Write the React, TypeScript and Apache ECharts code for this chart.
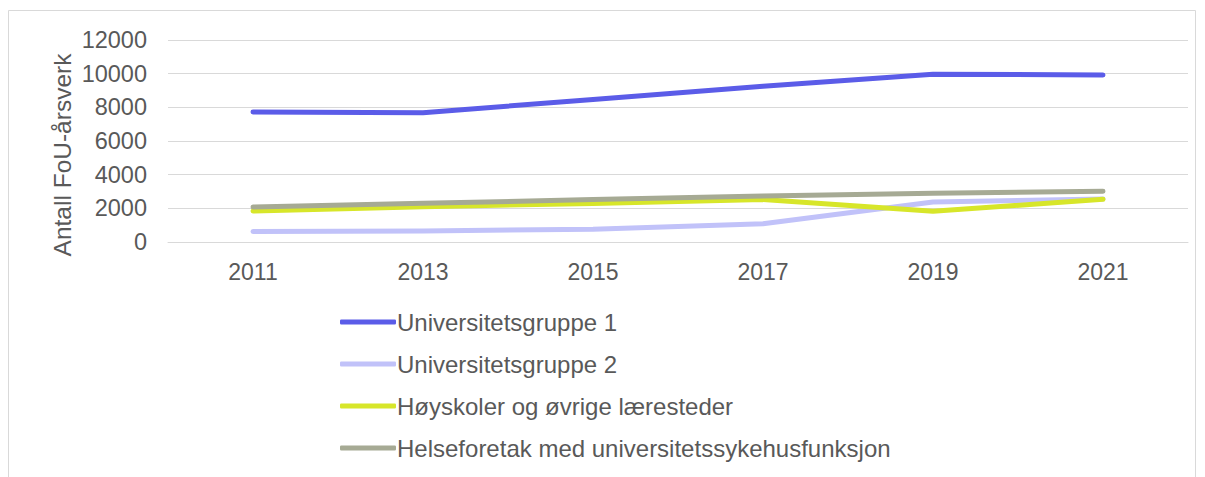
import React, { useEffect, useRef } from "react";
import * as echarts from "echarts";

const years = ["2011", "2013", "2015", "2017", "2019", "2021"];
const seriesNames = [
  "Universitetsgruppe 1",
  "Universitetsgruppe 2",
  "Høyskoler og øvrige læresteder",
  "Helseforetak med universitetssykehusfunksjon",
];
const ug1 = [7720, 7680, 8470, 9250, 9970, 9920];
const ug2 = [620, 660, 760, 1090, 2370, 2560];
const hoyskoler = [1840, 2100, 2290, 2520, 1820, 2540];
const helse = [2080, 2300, 2520, 2740, 2900, 3010];
const colors = ["#5b5ce8", "#c1c2f9", "#d7e62a", "#a6aa94"];
const yAxisTitle = "Antall FoU-årsverk";

export default function App() {
  const ref = useRef<HTMLDivElement>(null);
  useEffect(() => {
    document.body.style.margin = "0";
    const chart = echarts.init(ref.current!, undefined, { renderer: "svg" });
    const values = [ug1, ug2, hoyskoler, helse];
    const font = "Liberation Sans, Arial, sans-serif";
    chart.setOption({
      animation: false,
      textStyle: { fontFamily: font },
      grid: { left: 168, right: 17, top: 40, bottom: 235 },
      xAxis: {
        type: "category",
        data: years,
        boundaryGap: true,
        axisLine: { show: true, lineStyle: { color: "#d9d9d9", width: 1 } },
        axisTick: { show: false },
        axisLabel: { color: "#595959", fontSize: 23, margin: 18, fontFamily: font },
      },
      yAxis: {
        type: "value",
        min: 0,
        max: 12000,
        interval: 2000,
        axisLine: { show: false },
        axisTick: { show: false },
        splitLine: { lineStyle: { color: "#d9d9d9", width: 1 } },
        axisLabel: {
          color: "#595959",
          fontSize: 23.5,
          margin: 21,
          fontFamily: font,
          formatter: (v: number) => String(v),
        },
      },
      legend: {
        orient: "vertical",
        left: 340,
        top: 310,
        padding: 0,
        itemWidth: 56,
        itemHeight: 5,
        itemGap: 18,
        icon: "roundRect",
        textStyle: { color: "#595959", fontSize: 24, lineHeight: 24, fontFamily: font, padding: [0, 0, 0, -4] },
        data: seriesNames,
      },
      graphic: [
        {
          type: "rect",
          shape: { x: 8.5, y: 10.5, width: 1187, height: 480 },
          style: { fill: "none", stroke: "#d9d9d9", lineWidth: 1 },
          silent: true,
        },
        {
          type: "text",
          x: 62,
          y: 155,
          rotation: Math.PI / 2,
          style: {
            text: yAxisTitle,
            fill: "#595959",
            fontSize: 24.5,
            fontFamily: font,
            align: "center",
            verticalAlign: "middle",
          },
        },
      ],
      series: seriesNames.map((name, i) => ({
        name,
        type: "line",
        data: values[i],
        symbol: "none",
        lineStyle: { color: colors[i], width: 5, cap: "round", join: "round" },
        itemStyle: { color: colors[i] },
        z: 2,
      })),
    });
    return () => chart.dispose();
  }, []);
  return <div ref={ref} style={{ width: 1205, height: 477 }} />;
}
